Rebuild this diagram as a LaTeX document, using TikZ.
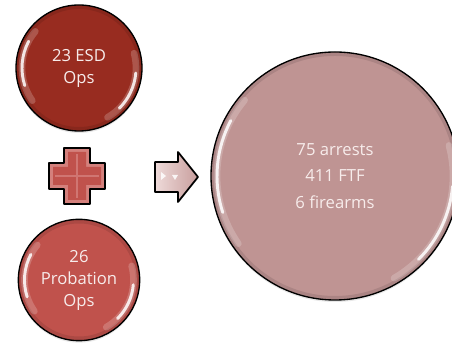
\documentclass[tikz,border=0pt]{standalone}
\usepackage{fontspec}
\setmainfont{Open Sans}
\usetikzlibrary{positioning,shadows}
\definecolor{DeepRed}{RGB}{152,44,32}
\definecolor{BrickRed}{RGB}{192,82,76}
\definecolor{DustyRose}{RGB}{191,148,147}
\definecolor{PaleRose}{RGB}{238,218,217}
\definecolor{RoseShade}{RGB}{200,158,157}
\definecolor{PlusRim}{RGB}{212,128,124}
\definecolor{SoftText}{RGB}{247,236,235}
\tikzset{
  bubble/.style={circle,draw=black,line width=1pt,inner sep=0pt,
    text=SoftText,align=center,font=\fontsize{12.5}{16.5}\selectfont,
    drop shadow={opacity=0.18,shadow xshift=0pt,shadow yshift=-1.5pt}},
  gloss/.style={white,line width=2.2pt,opacity=0.85,line cap=round},
  haze/.style={white,line width=5pt,opacity=0.2,line cap=round},
  rim/.style={black,line width=3pt,opacity=0.10},
  plusshape/.style={fill=PlusRim,draw=black,line width=1.3pt,line join=round},
  arrowshape/.style={draw=black,line width=1.3pt,line join=round,
    left color=PaleRose,right color=RoseShade}
}

\begin{document}
\begin{tikzpicture}[x=0.75pt,y=0.75pt]
  \useasboundingbox (0,0) rectangle (452,348);
  % left column
  \node[bubble,fill=DeepRed,minimum size=94.5pt] (esd) at (79,280) {23 ESD\\Ops};
  \node[bubble,fill=BrickRed,minimum size=91pt] (probation) at (79,68)
    {26\\Probation\\Ops};
  \coordinate (plus) at (77,172);
  \begin{scope}[shift={(plus)}]
    \draw[plusshape] (-13,28) -- (13,28) -- (13,13) -- (28,13) -- (28,-13)
      -- (13,-13) -- (13,-28) -- (-13,-28) -- (-13,-13) -- (-28,-13)
      -- (-28,13) -- (-13,13) -- cycle;
    \fill[BrickRed] (-9,24) -- (9,24) -- (9,9) -- (24,9) -- (24,-9)
      -- (9,-9) -- (9,-24) -- (-9,-24) -- (-9,-9) -- (-24,-9)
      -- (-24,9) -- (-9,9) -- cycle;
    \draw[PlusRim,line width=0.8pt,opacity=0.8] (0,-22) -- (0,22) (-22,0) -- (22,0);
  \end{scope}
  % arrow
  \coordinate (next) at (176,171);
  \begin{scope}[shift={(next)}]
    \draw[arrowshape] (-21,15) -- (2,15) -- (2,25) -- (22,0) -- (2,-25)
      -- (2,-15) -- (-21,-15) -- cycle;
    \fill[white,opacity=0.85] (-15,5) -- (-10,1) -- (-15,-3) -- cycle;
    \fill[white,opacity=0.85] (-4,2) -- (2,2) -- (-1,-3) -- cycle;
  \end{scope}
  % result
  \node[bubble,fill=DustyRose,minimum size=186pt,
    font=\fontsize{12.5}{20}\selectfont] (result) at (335,172)
    {75 arrests\\411 FTF\\6 firearms};
  % shine
  \foreach \n/\r in {esd/63,probation/60.5,result/124}{
    \draw[rim] (\n.center) circle[radius=\r-2];
    \draw[haze] ([shift={(140:\r-6)}]\n.center) arc[start angle=140,end angle=215,radius=\r-6];
    \draw[gloss] ([shift={(152:\r-6)}]\n.center) arc[start angle=152,end angle=198,radius=\r-6];
    \draw[haze] ([shift={(-60:\r-6)}]\n.center) arc[start angle=-60,end angle=15,radius=\r-6];
    \draw[gloss] ([shift={(-45:\r-6)}]\n.center) arc[start angle=-45,end angle=-5,radius=\r-6];
  }
\end{tikzpicture}
\end{document}
